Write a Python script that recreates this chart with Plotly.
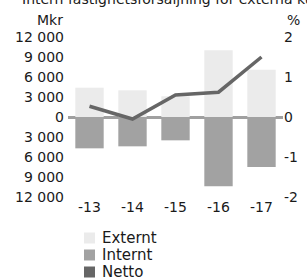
import plotly.graph_objects as go

years = ["-13", "-14", "-15", "-16", "-17"]
externt = [4400, 4000, 3100, 10000, 7100]
internt = [-4700, -4400, -3500, -10400, -7500]
netto = [0.27, -0.05, 0.55, 0.62, 1.5]

left_ticks = [12000, 9000, 6000, 3000, 0, -3000, -6000, -9000, -12000]
left_text = ["12 000", "9 000", "6 000", "3 000", "0", "3 000", "6 000", "9 000", "12 000"]
right_ticks = [2, 1, 0, -1, -2]
right_text = ["2", "1", "0", "-1", "-2"]

series_names = ["Externt", "Internt", "Netto"]
series_colors = ["#ebebeb", "#a2a2a2", "#666666"]

FONT = "DejaVu Sans"
fs = 14

fig = go.Figure()
fig.add_trace(go.Bar(x=years, y=externt, name=series_names[0],
                     marker=dict(color=series_colors[0], line=dict(width=0)), width=0.66))
fig.add_trace(go.Bar(x=years, y=internt, name=series_names[1],
                     marker=dict(color=series_colors[1], line=dict(width=0)), width=0.66))
fig.add_trace(go.Scatter(x=years, y=netto, name=series_names[2], yaxis="y2", mode="lines",
                         line=dict(color=series_colors[2], width=3.5)))

fig.update_layout(
    width=307, height=280,
    margin=dict(l=68, r=24, t=37, b=83, autoexpand=False),
    paper_bgcolor="white", plot_bgcolor="white",
    barmode="relative",
    showlegend=False,
    font=dict(family=FONT, size=fs, color="#1a1a1a"),
    xaxis=dict(showgrid=False, zeroline=False, showline=False, ticks="", tickfont=dict(size=fs)),
    yaxis=dict(range=[-12000, 12000], tickvals=left_ticks, ticktext=left_text, showgrid=False,
               zeroline=True, zerolinecolor="#a0a0a0", zerolinewidth=3, showline=False, ticks="",
               ticklabelstandoff=3),
    yaxis2=dict(range=[-2, 2], tickvals=right_ticks, ticktext=right_text, overlaying="y", side="right",
                showgrid=False, zeroline=False, showline=False, ticks=""),
)

# legend drawn below the plot (square swatches, tight spacing as in the reference)
for i, (nm, col) in enumerate(zip(series_names, series_colors)):
    c = 238 + 17 * i  # item centre in pixels
    fig.add_shape(type="rect", xref="paper", yref="paper",
                  x0=16 / 215, x1=27 / 215,
                  y0=(197 - (c + 5.5)) / 160, y1=(197 - (c - 5.5)) / 160,
                  fillcolor=col, line=dict(width=0))
    fig.add_annotation(text=nm, xref="paper", yref="paper", x=(100 - 68) / 215, y=(197 - c) / 160,
                       xanchor="left", yanchor="middle", showarrow=False, font=dict(size=15))

fig.add_annotation(text="Intern fastighetsförsäljning för externa kunder", xref="paper", yref="paper",
                   x=-0.223, y=1.24, xanchor="left", yanchor="middle", showarrow=False,
                   font=dict(size=fs))
fig.add_annotation(text="Mkr", xref="paper", yref="paper", x=-0.014, y=1.106,
                   xanchor="right", yanchor="middle", showarrow=False, font=dict(size=fs))
fig.add_annotation(text="%", xref="paper", yref="paper", x=1.047, y=1.106,
                   xanchor="center", yanchor="middle", showarrow=False, font=dict(size=fs))

fig.write_html("out.html", config={"displayModeBar": False},
               post_script="document.body.style.margin='0';")
